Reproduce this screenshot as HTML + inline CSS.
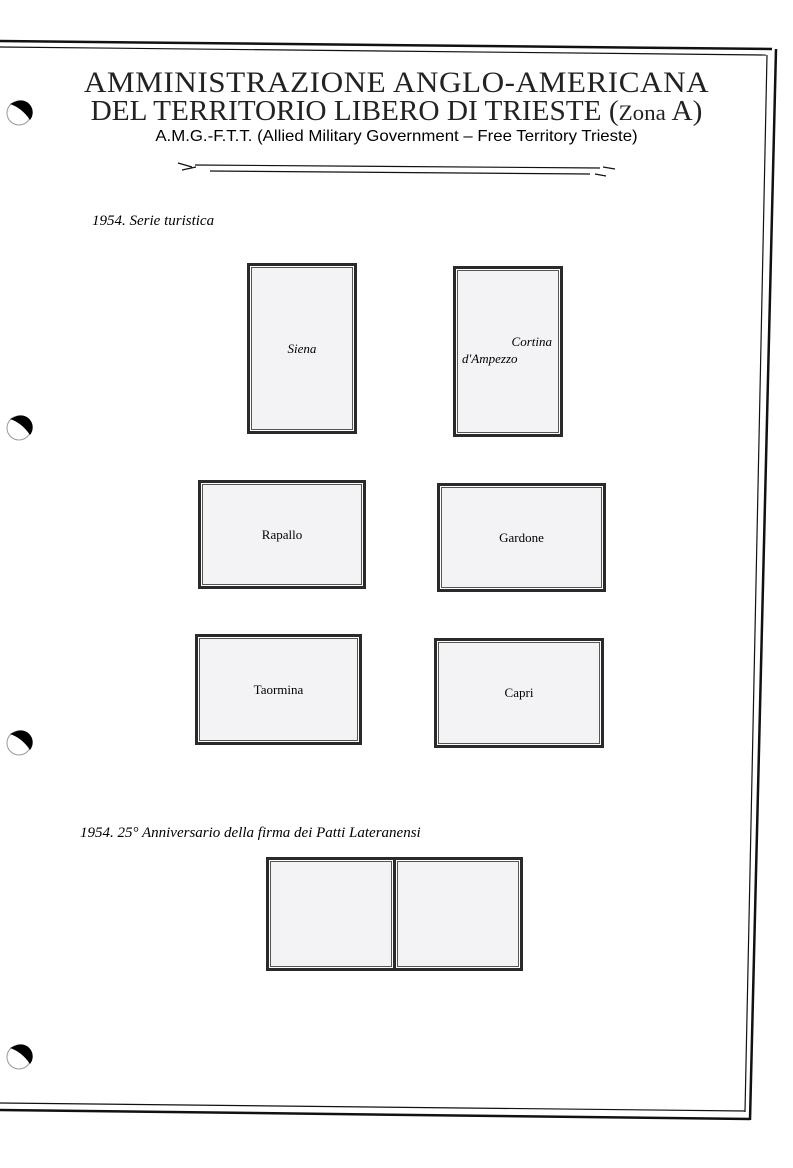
<!DOCTYPE html>
<html><head><style>
body{margin:0;width:793px;height:1168px;background:#fff;position:relative;overflow:hidden;font-family:"Liberation Serif",serif}
.t{position:absolute;white-space:nowrap}
.b{position:absolute;border:3px solid #2a2a2a;background:#fff;box-sizing:border-box}
.b>div{position:absolute;inset:1px;border:1px solid #555;background:#f3f3f5;display:flex;align-items:center;justify-content:center;font-size:13px}
</style></head><body>
<svg width="793" height="1168" style="position:absolute;left:0;top:0">
<g stroke="#111" fill="none">
<line x1="0" y1="41" x2="772" y2="49" stroke-width="2.5"/>
<line x1="0" y1="47" x2="766" y2="55" stroke-width="1.2"/>
<line x1="776" y1="49" x2="750" y2="1120" stroke-width="2.5"/>
<line x1="767" y1="55" x2="745" y2="1112" stroke-width="1.2"/>
<line x1="0" y1="1110" x2="750" y2="1119" stroke-width="2.5"/>
<line x1="0" y1="1103" x2="745" y2="1111" stroke-width="1.2"/>
<line x1="195" y1="165" x2="600" y2="168" stroke-width="1.2"/>
<line x1="210" y1="171" x2="590" y2="174" stroke-width="1.2"/>
<path d="M178 163 L192 167 M182 170 L196 167 M603 167 L615 169 M595 174 L606 176" stroke-width="1.2"/>
</g>
<defs>
<g id="h">
<circle cx="19" cy="13" r="12" fill="#fff" stroke="#999" stroke-width="1"/>
<path d="M17 1 A12 12 0 0 1 30 20 Q22 8 10 4 Z" fill="#000"/>
</g>
</defs>
<use href="#h" x="0" y="100"/>
<use href="#h" x="0" y="415"/>
<use href="#h" x="0" y="730"/>
<use href="#h" x="0" y="1044"/>
</svg>
<div class="t" style="left:0;width:793px;top:66px;text-align:center;font-size:30px;letter-spacing:0.5px;transform:scaleX(1.04);color:#222">AMMINISTRAZIONE ANGLO-AMERICANA</div>
<div class="t" style="left:0;width:793px;top:96px;text-align:center;font-size:28px;transform:scaleX(1.045);color:#222">DEL TERRITORIO LIBERO DI TRIESTE (<span style="font-size:22px">Zona</span> A)</div>
<div class="t" style="left:0;width:793px;top:128px;text-align:center;font-family:'Liberation Sans',sans-serif;font-size:16px;transform:scaleX(1.05)">A.M.G.-F.T.T. (Allied Military Government – Free Territory Trieste)</div>
<div class="t" style="left:92px;top:213px;font-size:15px;font-style:italic">1954. Serie turistica</div>
<div class="b" style="left:247px;top:263px;width:110px;height:171px"><div><i>Siena</i></div></div>
<div class="b" style="left:453px;top:266px;width:110px;height:171px"><div style="display:block"><i style="position:absolute;right:6px;top:63px">Cortina</i><i style="position:absolute;left:4px;top:80px">d'Ampezzo</i></div></div>
<div class="b" style="left:198px;top:480px;width:168px;height:109px"><div>Rapallo</div></div>
<div class="b" style="left:437px;top:483px;width:169px;height:109px"><div>Gardone</div></div>
<div class="b" style="left:195px;top:634px;width:167px;height:111px"><div>Taormina</div></div>
<div class="b" style="left:434px;top:638px;width:170px;height:110px"><div>Capri</div></div>
<div class="t" style="left:80px;top:825px;font-size:15px;font-style:italic">1954. 25° Anniversario della firma dei Patti Lateranensi</div>
<div class="b" style="left:266px;top:857px;width:130px;height:114px"><div></div></div>
<div class="b" style="left:393px;top:857px;width:130px;height:114px"><div></div></div>
</body></html>
